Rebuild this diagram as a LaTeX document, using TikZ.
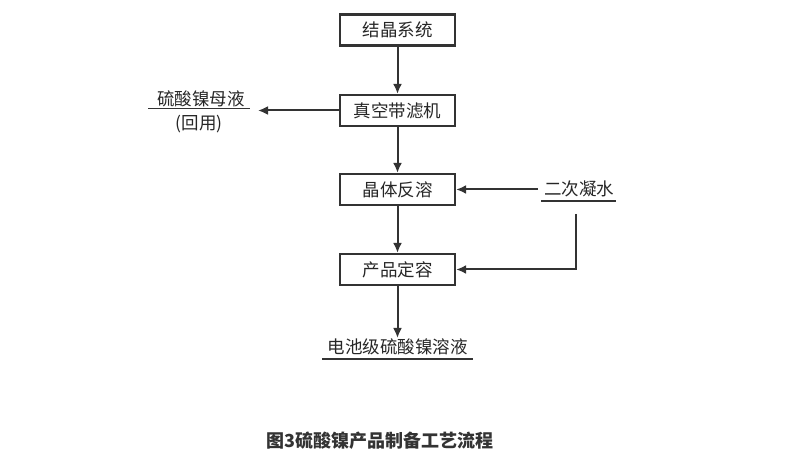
\documentclass[tikz,border=0pt]{standalone}
\usepackage{fontspec}
\setmainfont{Noto Sans CJK SC}
\usetikzlibrary{arrows.meta}
\definecolor{ln}{HTML}{333333}
\definecolor{cap}{HTML}{333333}
\tikzset{
  x=1pt,y=-1pt,
  procbox/.style={draw=ln,line width=2.2pt,minimum width=115pt,minimum height=31pt,inner sep=0pt,font=\fontsize{17.5}{17.5}\selectfont,text=black!85},
  flow/.style={draw=ln,line width=2pt,-{Latex[length=10pt,width=9pt]}},
  lbl/.style={inner sep=0pt,font=\fontsize{17.5}{17.5}\selectfont,text=black!85},
  uline/.style={draw=ln,line width=1.8pt}
}
\begin{document}
\begin{tikzpicture}
\useasboundingbox (0,0) rectangle (812,473);
\node[procbox] (b1) at (397.5,30) {结晶系统};
\node[procbox] (b2) at (397.5,110.5) {真空带滤机};
\node[procbox] (b3) at (397.5,189.5) {晶体反溶};
\node[procbox] (b4) at (397.5,269.5) {产品定容};
\node[lbl] (ml) at (201,99) {硫酸镍母液};
\node[lbl] (mh) at (199,124) {(回用)};
\coordinate (mla) at (258,110.5);
\draw[uline] (148,108.5) -- (250,108.5);
\node[lbl] (ws) at (579,189) {二次凝水};
\coordinate (wsa) at (538,189.5);
\coordinate (wsb) at (576,214);
\coordinate (wsc) at (576,269.5);
\draw[uline] (541,201) -- (616,201);
\node[lbl] (pr) at (397.5,347) {电池级硫酸镍溶液};
\coordinate (pra) at (397.5,338);
\draw[uline] (322,359) -- (473,359);
\draw[flow] (b1) -- (b2);
\draw[flow] (b2) -- (b3);
\draw[flow] (b3) -- (b4);
\draw[flow] (b4.south) -- (pra);
\draw[flow] (b2.west) -- (mla);
\draw[flow] (wsa) -- (b3.east);
\draw[flow] (wsb) -- (wsc) -- (b4.east);
\node[inner sep=0pt,font=\fontsize{18}{18}\selectfont\bfseries,text=cap] (cp) at (380,441) {图3硫酸镍产品制备工艺流程};
\end{tikzpicture}
\end{document}
